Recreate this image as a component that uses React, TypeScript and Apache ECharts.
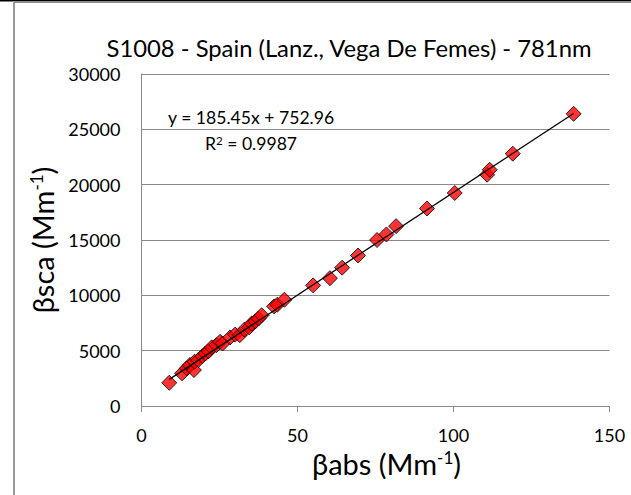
import React, { useEffect, useRef } from "react";
import * as echarts from "echarts";

// Absorption (x) and scattering (y) coefficients, Mm^-1
const absValues = [
  8.9, 13.0, 14.5, 15.5, 16.8, 17.0, 18.2, 19.5, 20.5, 21.5, 22.5, 24.0, 25.2, 26.0,
  28.4, 30.0, 31.5, 33.0, 34.5, 35.3, 36.5, 37.5, 38.5, 42.5, 43.5, 45.8, 55.0, 60.4,
  64.3, 69.4, 75.5, 78.5, 81.6, 91.5, 100.4, 110.8, 111.6, 119.0, 138.5,
];
const scaValues = [
  2100, 2950, 3400, 3700, 3250, 4000, 4150, 4500, 4750, 4950, 5300, 5500, 5800, 5650,
  6200, 6450, 6400, 6900, 7100, 7450, 7650, 7900, 8200, 9000, 9150, 9600, 10900, 11550,
  12500, 13600, 15000, 15500, 16250, 17850, 19250, 20900, 21350, 22800, 26400,
];

// Linear fit stated on the chart
const slope = 185.45;
const intercept = 752.96;
const rSquared = 0.9987;

const xTicks = [0, 50, 100, 150];
const yTicks = [0, 5000, 10000, 15000, 20000, 25000, 30000];

const FONT = "Lato, 'Noto Sans', sans-serif";
const GRID_GRAY = "#8a8a8a";

export default function App() {
  const ref = useRef<HTMLDivElement>(null);

  useEffect(() => {
    if (!ref.current) return;
    const chart = echarts.init(ref.current, undefined, { renderer: "svg" });

    const points = absValues.map((x, i) => [x, scaValues[i]]);
    const xMin = Math.min(...absValues);
    const xMax = Math.max(...absValues);
    const fitLine = [
      [xMin, slope * xMin + intercept],
      [xMax, slope * xMax + intercept],
    ];

    const unitRich = {
      n: { fontFamily: FONT, fontSize: 29, color: "#000", verticalAlign: "bottom" as const },
      sup: { fontFamily: FONT, fontSize: 17, color: "#000", verticalAlign: "top" as const },
    };

    const eqRich = {
      n: { fontFamily: FONT, fontSize: 17.6, fill: "#000", verticalAlign: "bottom" as const },
      sup: { fontFamily: FONT, fontSize: 11.5, fill: "#000", verticalAlign: "top" as const },
    };

    chart.setOption({
      animation: false,
      backgroundColor: "#fff",
      title: {
        text: "S1008 - Spain (Lanz., Vega De Femes) - 781nm",
        left: 344,
        top: 31,
        textAlign: "center",
        textStyle: { fontFamily: FONT, fontSize: 23.8, fontWeight: "normal", color: "#000" },
      },
      grid: { left: 141.5, right: 21.5, top: 74, bottom: 89, containLabel: false },
      xAxis: {
        type: "value",
        min: xTicks[0],
        max: xTicks[xTicks.length - 1],
        interval: 50,
        name: "{n|βabs (Mm}{sup|-1}{n|)}",
        nameLocation: "middle",
        nameGap: 42,
        nameTextStyle: { rich: unitRich, padding: [0, 0, 0, 22] },
        axisLine: { show: true, lineStyle: { color: GRID_GRAY, width: 1 } },
        axisTick: { show: true, length: 6, inside: false, lineStyle: { color: GRID_GRAY } },
        axisLabel: { margin: 20, fontFamily: FONT, fontSize: 18, color: "#000" },
        splitLine: { show: false },
      },
      yAxis: {
        type: "value",
        min: yTicks[0],
        max: yTicks[yTicks.length - 1],
        interval: 5000,
        name: "{n|βsca (Mm}{sup|-1}{n|)}",
        nameLocation: "middle",
        nameGap: 61,
        nameRotate: 90,
        nameTextStyle: { rich: unitRich },
        axisLine: { show: true, lineStyle: { color: GRID_GRAY, width: 1 } },
        axisTick: { show: false },
        axisLabel: {
          margin: 21,
          fontFamily: FONT,
          fontSize: 18,
          color: "#000",
          formatter: (v: number) => String(v),
        },
        splitLine: { show: true, lineStyle: { color: GRID_GRAY, width: 1 } },
      },
      series: [
        {
          type: "scatter",
          data: points,
          symbol: "diamond",
          symbolSize: 15,
          itemStyle: { color: "#ff0000", borderColor: "#000", borderWidth: 1 },
          z: 2,
        },
        {
          type: "line",
          data: fitLine,
          showSymbol: false,
          symbol: "none",
          lineStyle: { color: "#000", width: 1.3 },
          z: 3,
        },
      ],
      graphic: [
        { type: "rect", shape: { x: 0, y: 0, width: 631, height: 1.5 }, style: { fill: "#000" }, silent: true },
        { type: "rect", shape: { x: 13, y: 1, width: 618, height: 2 }, style: { fill: "#8c8c8c" }, silent: true },
        { type: "rect", shape: { x: 13, y: 1, width: 2, height: 494 }, style: { fill: "#9a9a9a" }, silent: true },
        {
          type: "text",
          x: 168,
          y: 117,
          style: {
            text: `y = ${slope}x + ${intercept}`,
            fontFamily: FONT,
            fontSize: 17.6,
            fill: "#000",
            verticalAlign: "middle",
          },
        },
        {
          type: "text",
          x: 205,
          y: 143,
          style: {
            text: `{n|R}{sup|2}{n| = ${rSquared}}`,
            rich: eqRich,
            verticalAlign: "middle",
          },
        },
      ],
    });

    return () => chart.dispose();
  }, []);

  return (
    <div
      ref={ref}
      style={{ position: "fixed", left: 0, top: 0, width: 631, height: 495 }}
    />
  );
}
